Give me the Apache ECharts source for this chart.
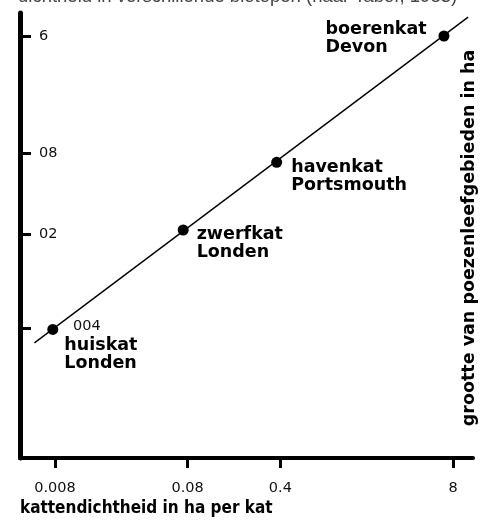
<!DOCTYPE html>
<html>
<head>
<meta charset="utf-8">
<script src="https://cdn.jsdelivr.net/npm/echarts@6/dist/echarts.min.js"></script>
<style>
  html, body { margin: 0; padding: 0; background: #fff; }
  #chart { width: 483px; height: 522px; }
</style>
</head>
<body>
<div id="chart"></div>
<script>
  // tick values and labels as printed on the axes
  const xTicks = [0.008, 0.08, 0.4, 8]
  const xTickLabels = ['0.008', '0.08', '0.4', '8']
  const yTicks = [0.04, 0.2, 0.8, 6]
  const yTickLabels = ['004', '02', '08', '6']

  // the four cats (density in ha per cat, territory size in ha)
  const catNames = ['huiskat\nLonden', 'zwerfkat\nLonden', 'havenkat\nPortsmouth', 'boerenkat\nDevon']
  const density = [0.0077, 0.074, 0.375, 6.84]
  const territory = [0.039, 0.215, 0.687, 6]

  // fitted line, ends
  const fitX = [0.0056, 10.4]
  const fitY = [0.031, 8.3]

  const lg = v => Math.log10(v)
  const findLabel = (ticks, labels, v) => {
    for (let i = 0; i < ticks.length; i++) {
      if (Math.abs(lg(ticks[i]) - v) < 1e-6) return labels[i]
    }
    return ''
  }

  const chart = echarts.init(document.getElementById('chart'))

  // label placement per point
  const labelPos = [
    { position: 'right', distance: 6, offset: [0, 25], align: 'left' },
    { position: 'right', distance: 8, offset: [0, 13], align: 'left' },
    { position: 'right', distance: 9, offset: [0, 14], align: 'left' },
    { position: [-113, -10], align: 'left', verticalAlign: 'top' } // block left of the dot, lines left-aligned
  ]

  const points = density.map((d, i) => ({
    value: [lg(d), lg(territory[i])],
    label: Object.assign({ show: true, formatter: catNames[i] }, labelPos[i])
  }))

  const option = {
    animation: false,
    backgroundColor: '#fff',
    grid: { left: 20, right: 10, top: 13, bottom: 64 },
    xAxis: {
      type: 'value',
      min: -2.3607,
      max: 1.0539,
      splitLine: { show: false },
      axisLine: { onZero: false, lineStyle: { color: '#000', width: 4 } },
      axisTick: {
        show: true, length: 10, customValues: xTicks.map(lg),
        lineStyle: { color: '#000', width: 3 }
      },
      axisLabel: {
        customValues: xTicks.map(lg),
        margin: 23,
        color: '#111',
        fontFamily: 'DejaVu Sans',
        fontSize: 14.5,
        formatter: v => findLabel(xTicks, xTickLabels, v)
      }
    },
    yAxis: {
      type: 'value',
      min: -2.3669,
      max: 0.9496,
      splitLine: { show: false },
      axisLine: { onZero: false, lineStyle: { color: '#000', width: 5 } },
      axisTick: {
        show: true, inside: true, length: 11, customValues: yTicks.map(lg),
        lineStyle: { color: '#000', width: 3 }
      },
      axisLabel: {
        inside: true,
        customValues: yTicks.map(lg),
        margin: 19,
        color: '#111',
        fontFamily: 'DejaVu Sans',
        fontSize: 14.5,
        formatter: v => {
          const s = findLabel(yTicks, yTickLabels, v)
          return s === '004' ? '{far|' + s + '}' : s
        },
        rich: {
          far: { padding: [0, 0, 4, 34], fontFamily: 'DejaVu Sans', fontSize: 14.5, color: '#111' }
        }
      }
    },
    series: [
      {
        type: 'line',
        data: fitX.map((x, i) => [lg(x), lg(fitY[i])]),
        showSymbol: false,
        lineStyle: { color: '#000', width: 1.4 },
        silent: true,
        z: 2
      },
      {
        type: 'scatter',
        data: points,
        symbolSize: 11,
        itemStyle: { color: '#000', opacity: 1 },
        label: {
          color: '#000',
          fontFamily: 'DejaVu Sans',
          fontWeight: 'bold',
          fontSize: 17.5,
          lineHeight: 18
        },
        z: 3
      }
    ],
    graphic: [
      {
        type: 'text', left: 18, top: -13,
        style: {
          text: 'dichtheid in verschillende biotopen (naar Tabor, 1983)',
          fill: '#444', font: '18.5px "Liberation Sans"'
        }
      },
      {
        type: 'text', left: 20, top: 500,
        style: {
          text: 'kattendichtheid in ha per kat',
          fill: '#000', font: 'bold 17px "DejaVu Sans Condensed"'
        }
      },
      {
        type: 'text', x: 469, y: 238, rotation: Math.PI / 2,
        style: {
          text: 'grootte van poezenleefgebieden in ha',
          fill: '#000', font: 'bold 17.5px "DejaVu Sans"',
          align: 'center', verticalAlign: 'middle'
        }
      }
    ]
  }

  chart.setOption(option)
</script>
</body>
</html>
